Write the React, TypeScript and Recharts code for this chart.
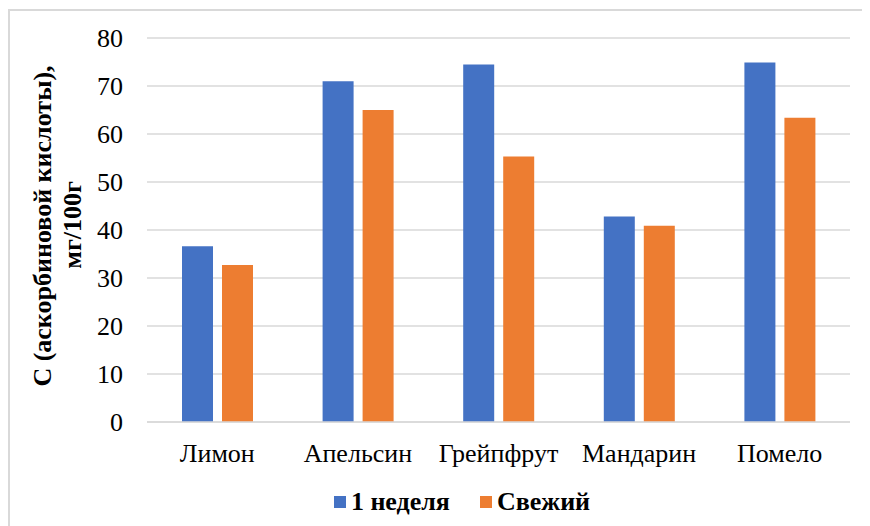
import { BarChart, Bar, XAxis, YAxis, CartesianGrid, Legend } from "recharts";

// Vitamin C content, mg per 100 g
const FRUITS = ["Лимон", "Апельсин", "Грейпфрут", "Мандарин", "Помело"];
const WEEK_ONE = [36.6, 71.0, 74.5, 42.8, 74.9];
const FRESH = [32.7, 65.0, 55.3, 40.9, 63.4];
const Y_TICKS = [0, 10, 20, 30, 40, 50, 60, 70, 80];

const BLUE = "#4472C4";
const ORANGE = "#ED7D31";
const GRID = "#d9d9d9";
const FONT = "'Liberation Serif', 'Times New Roman', serif";

const data = FRUITS.map((name, i) => ({ name, week: WEEK_ONE[i], fresh: FRESH[i] }));

function AxisTitle() {
  return (
    <g fontFamily={FONT} fontWeight="bold" fontSize={26} fill="#000">
      <text x={32} y={215} transform="rotate(-90 32 215)" textAnchor="middle" dominantBaseline="central">
        С (аскорбиновой кислоты),
      </text>
      <text x={62} y={214} transform="rotate(-90 62 214)" textAnchor="middle" dominantBaseline="central">
        мг/100г
      </text>
    </g>
  );
}

function LegendRow() {
  const items = [
    { label: "1 неделя", color: BLUE },
    { label: "Свежий", color: ORANGE },
  ];
  return (
    <div
      style={{
        height: 39,
        paddingTop: 5,
        display: "flex",
        justifyContent: "center",
        alignItems: "flex-start",
        gap: 30,
        fontFamily: FONT,
        fontWeight: "bold",
        fontSize: 26,
        paddingLeft: 64,
      }}
    >
      {items.map((it) => (
        <span key={it.label} style={{ display: "flex", alignItems: "center", gap: 5 }}>
          <span style={{ width: 12, height: 12, background: it.color, display: "inline-block" }} />
          {it.label}
        </span>
      ))}
    </div>
  );
}

export default function App() {
  return (
    <div
      style={{
        width: 862,
        height: 517,
        marginTop: 1,
        borderTop: `2px solid ${GRID}`,
        borderLeft: `2px solid ${GRID}`,
        boxSizing: "border-box",
        position: "relative",
        overflow: "hidden",
      }}
    >
      <BarChart
        width={860}
        height={515}
        data={data}
        margin={{ top: 27, right: 20, bottom: 0, left: 0 }}
        barSize={31}
        barGap={9}
      >
        <CartesianGrid vertical={false} stroke={GRID} strokeWidth={1.5} />
        <XAxis
          dataKey="name"
          height={60}
          axisLine={{ stroke: GRID, strokeWidth: 1.5 }}
          tickLine={false}
          tickSize={0}
          tickMargin={22}
          tick={{ fontFamily: FONT, fontSize: 26, fill: "#000" }}
        />
        <YAxis
          width={137}
          domain={[0, 80]}
          ticks={Y_TICKS}
          axisLine={false}
          tickLine={false}
          tickSize={0}
          tickMargin={24}
          tick={{ fontFamily: FONT, fontSize: 26, fill: "#000" }}
          label={<AxisTitle />}
        />
        <Legend verticalAlign="bottom" content={() => <LegendRow />} />
        <Bar dataKey="week" name="1 неделя" fill={BLUE} isAnimationActive={false} />
        <Bar dataKey="fresh" name="Свежий" fill={ORANGE} isAnimationActive={false} />
      </BarChart>
    </div>
  );
}
